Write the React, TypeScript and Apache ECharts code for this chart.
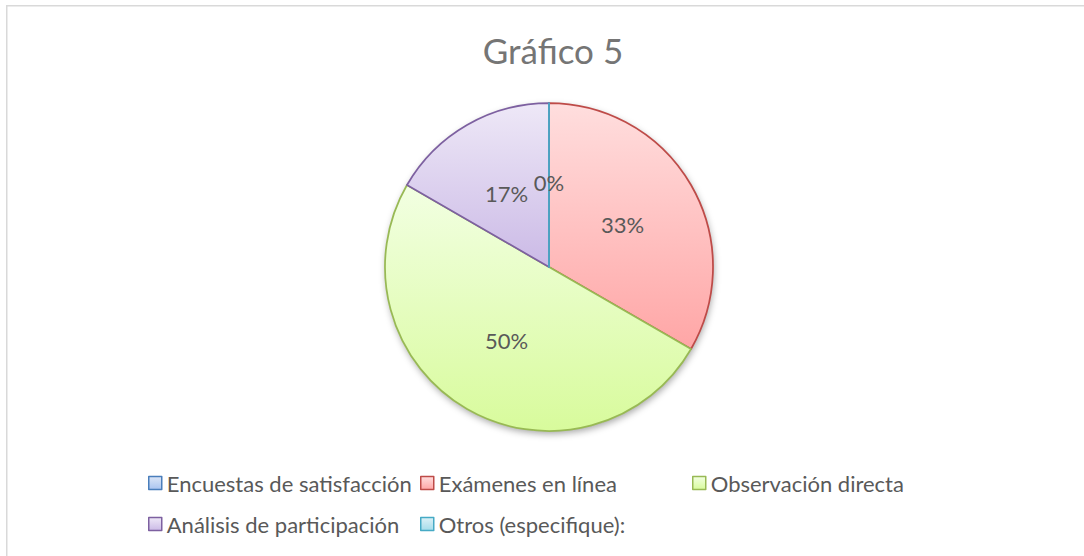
import React, { useEffect, useRef } from "react";
import * as echarts from "echarts";

const titleText = "Gráfico 5";
const categories = [
  "Encuestas de satisfacción",
  "Exámenes en línea",
  "Observación directa",
  "Análisis de participación",
  "Otros (especifique):",
];
const values = [0, 2, 3, 1, 0];
const borderColors = ["#4a7ebb", "#be4b48", "#98b954", "#7d60a0", "#46aac5"];
const gradTop = ["#dce6f7", "#ffdede", "#f2ffe2", "#eee8f7", "#dcf1f7"];
const gradBottom = ["#a9c4f0", "#ffa6a6", "#d8fb9c", "#cbbae6", "#a5dcea"];

const legendPos = [
  { left: 148, top: 472 },
  { left: 420, top: 472 },
  { left: 692, top: 472 },
  { left: 148, top: 513 },
  { left: 420, top: 513 },
];

const FONT = "Lato";

export default function App() {
  const ref = useRef<HTMLDivElement>(null);
  useEffect(() => {
    if (!ref.current) return;
    const chart = echarts.init(ref.current, null, { renderer: "svg" });
    const data = categories.map((name, i) => ({
      name,
      value: values[i],
      itemStyle: {
        color: new echarts.graphic.LinearGradient(0, 0, 0, 1, [
          { offset: 0, color: gradTop[i] },
          { offset: 1, color: gradBottom[i] },
        ]),
        borderColor: borderColors[i],
        borderWidth: 1.75,
      },
    }));
    chart.setOption({
      animation: false,
      backgroundColor: "#ffffff",
      title: {
        text: titleText,
        left: 548,
        top: 27,
        textAlign: "center",
        textStyle: {
          fontFamily: FONT,
          fontSize: 35,
          fontWeight: "normal",
          color: "#757575",
        },
      },
      graphic: [
        {
          type: "rect",
          silent: true,
          shape: { x: 6.75, y: 5.75, width: 1100, height: 600 },
          style: { fill: "none", stroke: "#d9d9d9", lineWidth: 1.5 },
          z: -10,
        },
      ],
      legend: categories.map((name, i) => ({
        data: [name],
        left: legendPos[i].left,
        top: legendPos[i].top,
        padding: 0,
        itemWidth: 13,
        itemHeight: 13,
        icon: "rect",
        selectedMode: false,
        itemStyle: { borderWidth: 1.5 },
        textStyle: { fontFamily: FONT, fontSize: 22, color: "#595959" },
      })),
      series: [
        {
          type: "pie",
          silent: true,
          center: [549, 267],
          radius: 164,
          z: 1,
          label: { show: false },
          labelLine: { show: false },
          data: [
            {
              value: 1,
              name: "sombra",
              itemStyle: {
                color: "#ffffff",
                shadowBlur: 7,
                shadowColor: "rgba(0,0,0,0.35)",
                shadowOffsetX: 1,
                shadowOffsetY: 3,
              },
            },
          ],
        },
        {
          type: "pie",
          center: [549, 267],
          radius: 164,
          startAngle: 90,
          clockwise: true,
          z: 2,
          percentPrecision: 0,
          avoidLabelOverlap: false,
          label: {
            show: true,
            position: "inside",
            formatter: "{d}%",
            fontFamily: FONT,
            fontSize: 22,
            color: "#595959",
          },
          labelLine: { show: false },
          emphasis: { disabled: true },
          data,
        },
      ],
    });
    return () => chart.dispose();
  }, []);
  return (
    <div
      ref={ref}
      style={{ position: "absolute", left: 0, top: 0, width: 1084, height: 556 }}
    />
  );
}
